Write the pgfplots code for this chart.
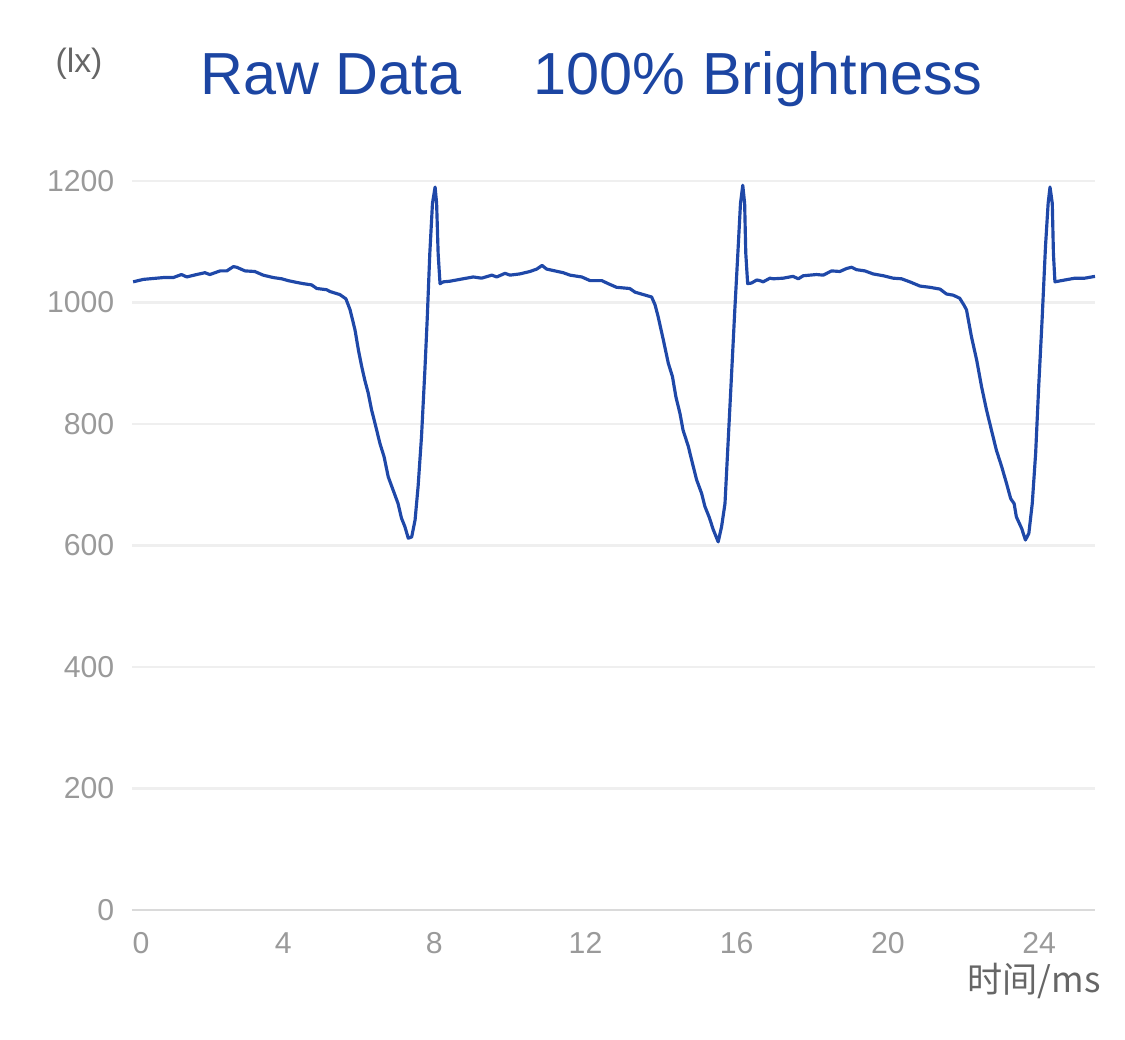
\documentclass[border=0pt]{standalone}
\usepackage{pgfplots}
\pgfplotsset{compat=1.18}
\usepackage{fontspec}
\setmainfont{Liberation Sans}
\newfontfamily\cjk{Noto Sans CJK SC}
\definecolor{lineblue}{HTML}{1F48A8}
\definecolor{titleblue}{HTML}{1C45A2}
\definecolor{tickgray}{HTML}{9A9A9A}
\definecolor{labelgray}{HTML}{666666}
\definecolor{gridgray}{HTML}{EFEFEF}
\definecolor{basegray}{HTML}{DADADA}
\begin{document}
\begin{tikzpicture}
\path[use as bounding box] (-13.2mm,-13mm) rectangle (99.3mm,91mm);
\begin{axis}[
 at={(0,0)}, anchor=south west,
 scale only axis, width=96.3mm, height=72.9mm,
 xmin=0, xmax=25.48, ymin=0, ymax=1200,
 axis line style={draw=none},
 major tick length=0pt,
 xtick={0.24,4,8,12,16,20,24}, xticklabels={0,4,8,12,16,20,24},
 ytick={0,200,400,600,800,1000,1200},
 ymajorgrids, grid style={gridgray, line width=0.6pt},
 /pgf/number format/assume math mode=true,
 /pgf/number format/1000 sep={},
 ticklabel style={font=\fontsize{8.6}{10}\selectfont, text=tickgray},
 yticklabel style={anchor=east, inner sep=0pt, xshift=-1.7mm},
 xticklabel style={anchor=north, inner sep=0pt, yshift=-2.2mm},
 clip=false,
]
\draw[basegray, line width=0.7pt] (axis cs:0,0) -- (axis cs:25.48,0);
\addplot[lineblue, line width=0.9pt, line join=round] coordinates {
(0.03,1034) (0.30,1038) (0.83,1041) (1.09,1041) (1.31,1046) (1.45,1042) (1.71,1046) (1.93,1049) (2.06,1046)
(2.33,1052) (2.51,1052) (2.68,1059) (2.77,1058) (2.99,1052) (3.25,1051) (3.47,1045) (3.74,1041) (3.96,1039)
(4.13,1036) (4.36,1033) (4.53,1031) (4.75,1029) (4.89,1023) (5.15,1021) (5.24,1018) (5.50,1013) (5.66,1006)
(5.77,988) (5.90,955) (5.99,922) (6.08,894) (6.16,872) (6.25,851) (6.34,823) (6.45,796) (6.56,768) (6.67,746)
(6.78,713) (6.91,691) (7.04,669) (7.13,645) (7.22,631) (7.31,612) (7.40,614) (7.49,642) (7.57,697) (7.66,779)
(7.75,889) (7.81,971) (7.88,1081) (7.95,1163) (8.02,1190) (8.06,1163) (8.10,1081) (8.15,1031) (8.24,1034)
(8.41,1035) (8.76,1039) (9.03,1042) (9.25,1040) (9.52,1045) (9.65,1042) (9.87,1048) (10.00,1045) (10.26,1047)
(10.53,1051) (10.71,1055) (10.85,1061) (10.97,1055) (11.19,1052) (11.41,1049) (11.59,1045) (11.90,1042)
(12.12,1036) (12.43,1036) (12.60,1031) (12.82,1025) (13.17,1023) (13.31,1017) (13.53,1013) (13.75,1009)
(13.84,996) (13.92,977) (14.06,938) (14.19,900) (14.30,878) (14.39,845) (14.50,817) (14.58,790) (14.72,763)
(14.83,735) (14.94,708) (15.07,686) (15.16,664) (15.27,647) (15.38,626) (15.51,606) (15.60,631) (15.69,669)
(15.78,779) (15.87,889) (15.95,988) (16.04,1092) (16.10,1163) (16.16,1193) (16.21,1163) (16.24,1081)
(16.29,1031) (16.39,1032) (16.53,1037) (16.61,1036) (16.70,1034) (16.88,1040) (16.97,1039) (17.23,1040)
(17.49,1043) (17.63,1039) (17.76,1044) (18.11,1046) (18.29,1045) (18.51,1052) (18.73,1051) (18.91,1056)
(19.04,1058) (19.17,1054) (19.39,1052) (19.61,1047) (19.88,1044) (20.14,1040) (20.36,1039) (20.58,1034)
(20.85,1027) (21.11,1025) (21.38,1022) (21.55,1014) (21.73,1012) (21.90,1007) (22.01,996) (22.08,988)
(22.21,944) (22.35,905) (22.48,861) (22.61,823) (22.74,790) (22.87,757) (23.01,730) (23.14,702) (23.25,677)
(23.34,669) (23.40,647) (23.54,628) (23.64,609) (23.73,620) (23.82,669) (23.91,752) (23.99,861) (24.08,971)
(24.17,1092) (24.24,1163) (24.29,1190) (24.35,1163) (24.38,1081) (24.42,1034) (24.68,1037) (24.95,1040)
(25.21,1040) (25.48,1043)
};
\end{axis}
\node[anchor=base west, inner sep=0pt, text=titleblue, font=\fontsize{16.9}{20}\selectfont] at (6.8mm,81.5mm) {Raw Data};
\node[anchor=base west, inner sep=0pt, text=titleblue, font=\fontsize{16.9}{20}\selectfont] at (40.1mm,81.5mm) {100\% Brightness};
\node[inner sep=0pt, text=labelgray, font=\fontsize{9.6}{11}\selectfont] at (-5.3mm,84.65mm) {(lx)};
\node[inner sep=0pt, text=labelgray, font=\cjk\fontsize{10}{12}\selectfont] at (90.2mm,-7.1mm) {时间/ms};
\end{tikzpicture}
\end{document}
